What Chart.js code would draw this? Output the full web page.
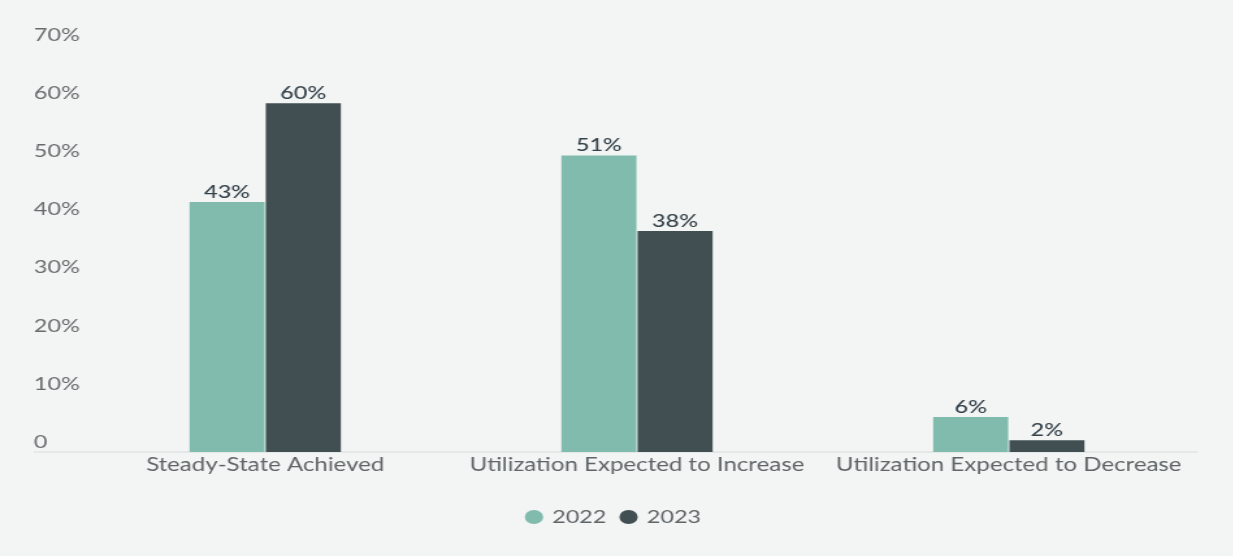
<!DOCTYPE html>
<html>
<head>
<meta charset="utf-8">
<script src="https://cdn.jsdelivr.net/npm/chart.js@4.4.0/dist/chart.umd.min.js"></script>
<style>
  html, body { margin: 0; padding: 0; background: #f3f4f4; overflow: hidden; }
  /* the chart is laid out narrow and widened 1.3x */
  #wrap { width: 948px; height: 556px; transform: scaleX(1.3); transform-origin: 0 0; }
</style>
</head>
<body>
<div id="wrap"><canvas id="bar-chart"></canvas></div>
<script>
const categories = ["Steady-State Achieved", "Utilization Expected to Increase", "Utilization Expected to Decrease"];
const years = ["2022", "2023"];
const values2022 = [43, 51, 6];
const values2023 = [60, 38, 2];
const yMax = 70;
const yStep = 10;

const FONT = "Lato";

// percent labels above each bar
const barValues = {
  id: 'barValues',
  afterDatasetsDraw(chart) {
    const ctx = chart.ctx;
    ctx.save();
    ctx.font = '500 18px ' + FONT;
    ctx.fillStyle = '#34424a';
    ctx.textAlign = 'center';
    ctx.textBaseline = 'bottom';
    chart.data.datasets.forEach((ds, i) => {
      chart.getDatasetMeta(i).data.forEach((bar, j) => {
        ctx.fillText(ds.data[j] + '%', bar.x, bar.y - 1);
      });
    });
    ctx.restore();
  }
};

// zero line running under the tick labels too
const baseLine = {
  id: 'baseLine',
  beforeDatasetsDraw(chart) {
    const ctx = chart.ctx;
    const y = chart.scales.y.getPixelForValue(0);
    ctx.save();
    ctx.strokeStyle = '#e1e5e5';
    ctx.lineWidth = 1.5;
    ctx.beginPath();
    ctx.moveTo(26, y);
    ctx.lineTo(chart.chartArea.right + 2, y);
    ctx.stroke();
    ctx.restore();
  }
};

new Chart(document.getElementById("bar-chart"), {
  type: 'bar',
  data: {
    labels: categories,
    datasets: [
      { label: years[0], data: values2022, backgroundColor: "#80bbad" },
      { label: years[1], data: values2023, backgroundColor: "#414f52" }
    ]
  },
  options: {
    responsive: true,
    maintainAspectRatio: false,
    animation: false,
    categoryPercentage: 0.41,
    barPercentage: 0.985,
    layout: { padding: { left: 26, right: 29, top: 45, bottom: 20 } },
    scales: {
      x: {
        grid: { display: false, drawTicks: false },
        border: { display: false },
        afterFit: s => { s.height = 44; },
        ticks: { color: '#5f6567', font: { family: FONT, size: 18.5 }, padding: 2, maxRotation: 0 }
      },
      y: {
        min: 0,
        max: yMax,
        grid: { display: false, drawTicks: false },
        border: { display: false },
        afterFit: s => { s.width = 35; },
        ticks: {
          stepSize: yStep,
          color: '#666c6d',
          font: { family: FONT, size: 18 },
          padding: 4,
          crossAlign: 'far',
          labelOffset: -10,
          callback: v => v === 0 ? '0' : v + '%'
        }
      }
    },
    plugins: {
      legend: {
        position: 'bottom',
        labels: {
          usePointStyle: true,
          pointStyle: 'circle',
          boxWidth: 10,
          boxHeight: 10,
          color: '#5f6567',
          font: { family: FONT, size: 18 },
          padding: 12
        }
      },
      tooltip: { enabled: false }
    }
  },
  plugins: [baseLine, barValues]
});
</script>
</body>
</html>
